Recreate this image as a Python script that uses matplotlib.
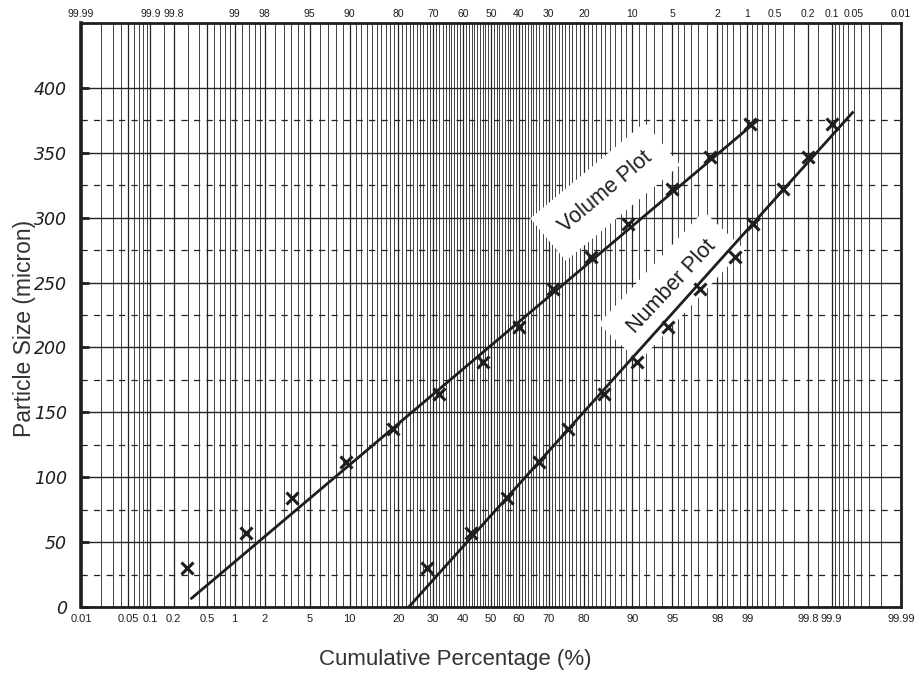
import numpy as np
import matplotlib
matplotlib.use("Agg")
import matplotlib.pyplot as plt
from statistics import NormalDist

# ---- data -------------------------------------------------------------
particle_size = [30, 57, 84, 112, 137, 164, 189, 216, 245, 270, 295, 322, 347, 372]

volume_pct = [0.29, 1.3, 3.55, 9.4, 18.8, 31.9, 47.0, 60.0, 71.2, 81.8, 89.3, 95.0, 97.65, 99.05]
number_pct = [28.2, 42.7, 55.6, 66.8, 75.7, 84.8, 90.8, 94.6, 97.1, 98.67, 99.13, 99.6, 99.8, 99.9]

# straight-line fits drawn through each series (end points)
volume_fit_pct = [0.33, 99.22]
volume_fit_size = [6.7, 375]
number_fit_pct = [22.8, 99.948]
number_fit_size = [0, 381]

bottom_labels = [0.01, 0.05, 0.1, 0.2, 0.5, 1, 2, 5, 10, 20, 30, 40, 50, 60, 70,
                 80, 90, 95, 98, 99, 99.8, 99.9, 99.99]
top_labels = [99.99, 99.9, 99.8, 99, 98, 95, 90, 80, 70, 60, 50, 40, 30, 20, 10,
              5, 2, 1, 0.5, 0.2, 0.1, 0.05, 0.01]

size_ticks = [0, 50, 100, 150, 200, 250, 300, 350, 400]

# ---- probability (normal) scale ----------------------------------------
_nd = NormalDist()


def pct_to_z(p):
    p = np.clip(np.asarray(p, dtype=float), 1e-7, 100 - 1e-7)
    f = np.vectorize(lambda v: _nd.inv_cdf(v / 100.0) if np.isfinite(v) else np.nan,
                     otypes=[float])
    return f(p)


def z_to_pct(z):
    z = np.asarray(z, dtype=float)
    f = np.vectorize(lambda v: 100.0 * _nd.cdf(v) if np.isfinite(v) else np.nan,
                     otypes=[float])
    return f(z)


def probit_line(pcts, sizes, n=200):
    """Points of a line that is straight on normal-probability paper."""
    zz = pct_to_z(pcts)
    z = np.linspace(zz[0], zz[-1], n)
    return z_to_pct(z), np.interp(z, zz, sizes)


def fmt(v):
    return f"{v:g}"


# grid positions of the probability paper
lo = [0.02, 0.03, 0.04, 0.05, 0.06, 0.07, 0.08, 0.09, 0.1, 0.15, 0.2, 0.3, 0.4,
      0.5, 0.6, 0.7, 0.8, 0.9, 1, 1.2, 1.4, 1.6, 1.8, 2, 2.5, 3, 3.5, 4, 4.5, 5,
      6, 7, 8, 9]
grid_pct = sorted(set([round(v, 4) for v in lo] + list(range(10, 91)) +
                      [round(100 - v, 4) for v in lo]))

ink = "#1e1e1e"
grid_ink = "#242424"

fig = plt.figure(figsize=(9.22, 6.8), dpi=100)
ax = fig.add_axes([81 / 922, 1 - 607 / 680, 820 / 922, 584 / 680])
ax.set_xscale("function", functions=(pct_to_z, z_to_pct))
ax.set_xlim(0.01, 99.99)
ax.set_ylim(0, 450)
ax.set_axisbelow(True)

# vertical grid
ax.set_xticks(bottom_labels)
ax.set_xticklabels([fmt(v) for v in bottom_labels], fontsize=8,
                   family="Liberation Sans", color=ink)
ax.set_xticks([g for g in grid_pct if g not in bottom_labels], minor=True)
ax.tick_params(axis="x", which="both", length=0, pad=5)
ax.grid(True, axis="x", which="major", color=grid_ink, lw=0.9)
ax.grid(True, axis="x", which="minor", color=grid_ink, lw=0.6)

# horizontal grid: solid every 50, dashed between
ax.set_yticks(size_ticks)
ax.set_yticklabels([str(v) for v in size_ticks], fontsize=12.5, style="italic",
                   family="DejaVu Sans", color=ink)
ax.set_yticks(np.arange(25, 400, 50), minor=True)
ax.tick_params(axis="y", which="major", direction="in", length=6, width=2,
               pad=10, color=ink)
ax.tick_params(axis="y", which="minor", length=0)
ax.grid(True, axis="y", which="major", color=grid_ink, lw=1.0)
ax.grid(True, axis="y", which="minor", color=grid_ink, lw=0.9,
        linestyle=(0, (5, 5)))

for side, sp in ax.spines.items():
    sp.set_color(ink)
    sp.set_linewidth(2.0)
ax.spines["left"].set_linewidth(2.6)

# top scale: complementary percentage
ax_top = ax.twiny()
ax_top.set_xscale("function", functions=(pct_to_z, z_to_pct))
ax_top.set_xlim(0.01, 99.99)
top_pos = [100 - v for v in top_labels]
ax_top.set_xticks(top_pos)
ax_top.set_xticklabels([fmt(v) for v in top_labels], fontsize=7.5,
                       family="Liberation Sans", color=ink)
ax_top.tick_params(axis="x", length=0, pad=3)
for sp in ax_top.spines.values():
    sp.set_visible(False)

# fitted lines (straight in probability space)
vx, vy = probit_line(volume_fit_pct, volume_fit_size)
nx, ny = probit_line(number_fit_pct, number_fit_size)
ax.plot(vx, vy, color=ink, lw=2.0, zorder=4)
ax.plot(nx, ny, color=ink, lw=2.0, zorder=4)

# measured points
ax.plot(volume_pct, particle_size, ls="none", marker="x", ms=8, mew=2.2,
        color=ink, zorder=5)
ax.plot(number_pct, particle_size, ls="none", marker="x", ms=8, mew=2.2,
        color=ink, zorder=5)

# series labels on white patches
box = dict(boxstyle="square,pad=0.8", fc="white", ec="none")
ax.text(85.0, 320, "Volume Plot", rotation=40, rotation_mode="anchor",
        ha="center", va="center", fontsize=15.5, family="Liberation Sans",
        color=ink, bbox=box, zorder=3)
ax.text(94.9, 247, "Number Plot", rotation=47, rotation_mode="anchor",
        ha="center", va="center", fontsize=15.5, family="Liberation Sans",
        color=ink, bbox=box, zorder=3)

fig.text(455 / 922, 1 - 660 / 680, "Cumulative Percentage (%)", ha="center",
         va="center", fontsize=16, family="Liberation Sans", color="#333333")
fig.text(25 / 922, 1 - 328 / 680, "Particle Size (micron)", ha="center",
         va="center", rotation=90, fontsize=16.5, family="Liberation Sans",
         color="#333333")

fig.savefig("out.png", dpi=100)
